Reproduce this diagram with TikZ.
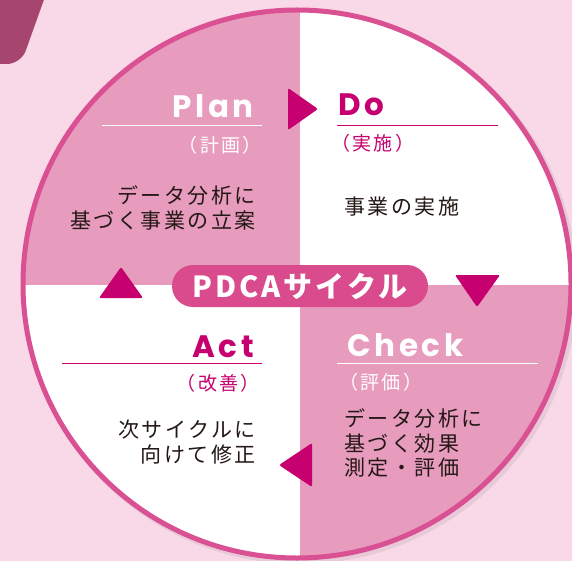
\documentclass[tikz,border=0pt]{standalone}
\usepackage{fontspec}
\newfontfamily\jpfont{Noto Sans CJK JP}[LetterSpace=10]
\newfontfamily\jpspaced{Noto Sans CJK JP}[LetterSpace=12]
\newfontfamily\headfont{Poppins}[LetterSpace=12]
\usetikzlibrary{positioning}
\definecolor{bgpink}{HTML}{F9D9E8}
\definecolor{quadpink}{HTML}{E79BBD}
\definecolor{ringpink}{HTML}{DA5193}
\definecolor{pdcared}{HTML}{C6006F}
\definecolor{pillpink}{HTML}{D94B8C}
\definecolor{cornerplum}{HTML}{A6466F}
\definecolor{inkblack}{HTML}{231815}
\begin{document}
\begin{tikzpicture}[x=1pt, y=-1pt]
	\tikzstyle{head} = [inner sep=0pt, font=\headfont\bfseries\fontsize{31}{31}\selectfont]
	\tikzstyle{sub} = [inner sep=0pt, font=\jpspaced\fontsize{19}{19}\selectfont]
	\tikzstyle{body} = [inner sep=0pt, text=inkblack, font=\jpspaced\fontsize{21}{24.5}\selectfont]
	\tikzstyle{rule} = [line width=1pt]
	\tikzstyle{tri} = [fill=pdcared, rounded corners=2pt]
	\useasboundingbox (0,0) rectangle (572,561);
	\fill[bgpink] (0,0) rectangle (572,561);
	\fill[cornerplum, rounded corners=14pt] (-20,-20) -- (51,-20) -- (21,64) -- (-20,64) -- cycle;
	% Circle and quadrants
	\fill[black, opacity=0.07] (300,287) circle (277);
	\fill[white] (297,284) circle (274);
	\begin{scope}
		\clip (297,284) circle (274);
		\fill[quadpink] (0,0) rectangle (300,285);
		\fill[quadpink] (300,285) rectangle (572,561);
	\end{scope}
	\draw[ringpink, line width=5pt] (297,284) circle (274);
	% Place nodes
	\node [head, text=white, anchor=base east] (plan) at (254,118) {Plan};
	\draw [rule, white] (102,126) -- (262,126);
	\node [sub, text=white, anchor=east] (plansub) at (262,145) {（計画）};
	\node [body, align=right, anchor=east] (plantext) at (256,208) {データ分析に\\基づく事業の立案};
	\node [head, text=pdcared, anchor=base west] (do) at (338,116) {Do};
	\draw [rule, pdcared] (337,126) -- (498,126);
	\node [sub, text=pdcared, anchor=west] (dosub) at (331,143) {（実施）};
	\node [body, anchor=west] (dotext) at (344,207) {事業の実施};
	\node [head, text=pdcared, anchor=base east] (act) at (254,357) {Act};
	\draw [rule, pdcared] (62,363) -- (262,363);
	\node [sub, text=pdcared, anchor=east] (actsub) at (260,383) {（改善）};
	\node [body, align=right, anchor=east] (acttext) at (256,442) {次サイクルに\\向けて修正};
	\node [head, text=white, anchor=base west] (check) at (347,356) {Check};
	\draw [rule, white] (337,363) -- (538,363);
	\node [sub, text=white, anchor=west] (checksub) at (339,382) {（評価）};
	\node [body, align=left, anchor=west] (checktext) at (344,443) {データ分析に\\基づく効果\\測定・評価};
	\node [fill=pillpink, rounded corners=21pt, minimum width=256pt, minimum height=42pt, inner sep=0pt,
		text=white, font=\jpfont\bfseries\fontsize{29}{29}\selectfont] (pdca) at (300,286) {PDCAサイクル};
	% Cycle arrows
	\fill [tri] (288,88) -- (318,109) -- (288,130) -- cycle;
	\fill [tri] (455,275) -- (500,275) -- (477,307) -- cycle;
	\fill [tri] (312,443) -- (279,465) -- (312,487) -- cycle;
	\fill [tri] (99,298) -- (121,267) -- (143,298) -- cycle;
\end{tikzpicture}
\end{document}
